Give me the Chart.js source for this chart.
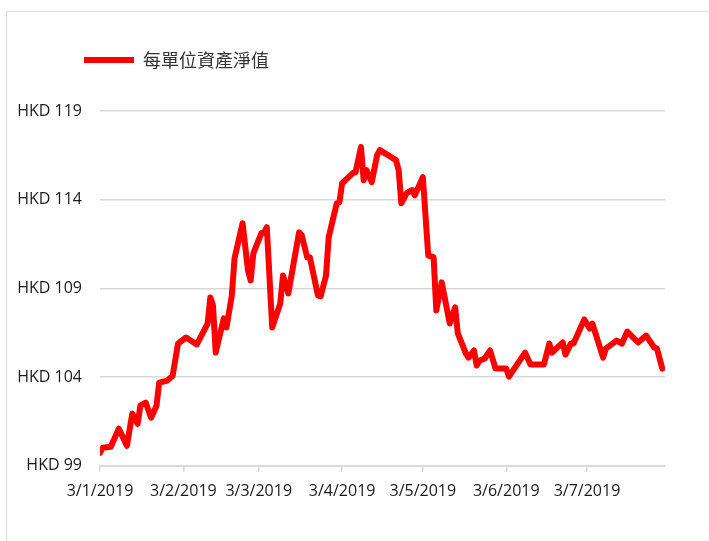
<!DOCTYPE html>
<html>
<head>
<meta charset="utf-8">
<script src="https://cdn.jsdelivr.net/npm/chart.js@4.4.1/dist/chart.umd.min.js"></script>
<style>
  body { margin: 0; background: #fff; }
  .frame { position: absolute; left: 6px; top: 11px; width: 780px; height: 600px; border: 1px solid #d9d9d9; }
  #navChart { position: absolute; left: 0; top: 0; }
</style>
</head>
<body>
<div class="frame"></div>
<canvas id="navChart" width="709" height="541"></canvas>
<script>
const seriesName = '每單位資產淨值';

// days counted from 3 Jan 2019
const dayOffsets = [
  0, 1, 4, 7, 10, 12, 14, 15, 17, 19, 21, 22, 25, 27, 29, 31, 32, 36, 40, 41,
  42, 43, 46, 47, 49, 50, 53, 55, 56, 57, 60, 61, 62, 64, 67, 68, 70, 74, 75, 77,
  78, 81, 82, 84, 85, 88, 89, 90, 94, 95, 97, 98, 99, 101, 103, 104, 110, 111, 112, 114,
  116, 117, 120, 122, 124, 125, 127, 130, 132, 133, 136, 137, 139, 140, 141, 143, 145, 147, 151, 152,
  158, 160, 165, 167, 168, 172, 173, 175, 176, 180, 182, 183, 187, 188, 192, 194, 196, 200, 203, 206,
  207, 209
];

const navValues = [
  99.73, 100.02, 100.07, 101.09, 100.13, 101.94, 101.37, 102.39, 102.56, 101.71, 102.39, 103.69, 103.80, 104.08, 105.89, 106.12, 106.23, 105.84, 107.02, 108.49,
  108.04, 105.38, 107.31, 106.80, 108.60, 110.69, 112.67, 110.02, 109.45, 110.98, 112.11, 112.15, 112.45, 106.80, 108.15, 109.73, 108.72, 112.16, 111.99, 110.75,
  110.75, 108.60, 108.55, 109.73, 111.88, 113.80, 113.86, 114.93, 115.50, 115.55, 116.97, 115.10, 115.67, 114.99, 116.51, 116.80, 116.23, 115.67, 113.80, 114.37,
  114.54, 114.25, 115.27, 110.86, 110.75, 107.76, 109.34, 107.02, 107.93, 106.46, 105.33, 105.10, 105.50, 104.65, 104.93, 105.05, 105.50, 104.48, 104.48, 104.03,
  105.38, 104.71, 104.71, 105.89, 105.38, 105.95, 105.27, 105.89, 105.89, 107.25, 106.74, 107.02, 105.10, 105.61, 106.06, 105.89, 106.57, 105.95, 106.34, 105.67,
  105.61, 104.48
];

const monthTickDays = [0, 31, 59, 90, 120, 151, 181];
const monthTickLabels = ['3/1/2019', '3/2/2019', '3/3/2019', '3/4/2019', '3/5/2019', '3/6/2019', '3/7/2019'];
const yTickValues = [99, 104, 109, 114, 119];

const tickFont = { family: '"Open Sans", "Liberation Sans", sans-serif', size: 16 };
const gridGray = '#d9d9d9';

// === legend: extra space under it, and start it at the plot's left edge ===
const legendPlacement = {
  id: 'legendPlacement',
  beforeInit(chart) {
    const fit = chart.legend.fit;
    chart.legend.fit = function () {
      fit.bind(chart.legend)();
      this.height += 32;
    };
  },
  afterLayout(chart) {
    chart.legend.left += 74;
  }
};

const ctx = document.getElementById('navChart').getContext('2d');
new Chart(ctx, {
  type: 'line',
  data: {
    datasets: [{
      label: seriesName,
      data: dayOffsets.map((d, i) => ({ x: d, y: navValues[i] })),
      borderColor: '#ff0000',
      backgroundColor: '#ff0000',
      borderWidth: 6,
      borderCapStyle: 'round',
      borderJoinStyle: 'round',
      pointRadius: 0,
      tension: 0
    }]
  },
  options: {
    responsive: false,
    animation: false,
    layout: { padding: { left: 0, right: 44, top: 41, bottom: 30 } },
    plugins: {
      legend: {
        align: 'start',
        labels: {
          usePointStyle: true,
          pointStyle: 'line',
          pointStyleWidth: 50,
          color: '#333',
          font: { family: '"Noto Sans CJK TC", sans-serif', size: 18 }
        }
      },
      tooltip: { enabled: false }
    },
    scales: {
      x: {
        type: 'linear',
        min: 0,
        max: 210,
        afterBuildTicks: s => { s.ticks = monthTickDays.map(v => ({ value: v })); },
        ticks: {
          autoSkip: false,
          maxRotation: 0,
          padding: 10,
          color: '#1a1a1a',
          font: tickFont,
          callback: (v, i) => monthTickLabels[i]
        },
        grid: { drawOnChartArea: false, drawTicks: true, tickLength: 6, color: gridGray, lineWidth: 1.5 },
        border: { color: gridGray, width: 2 }
      },
      y: {
        min: 99,
        max: 119,
        afterBuildTicks: s => { s.ticks = yTickValues.map(v => ({ value: v })); },
        afterFit: s => { s.width = 100; },
        ticks: {
          padding: 18,
          color: '#1a1a1a',
          font: tickFont,
          callback: v => 'HKD ' + v
        },
        grid: { drawTicks: false, color: gridGray, lineWidth: 1.5 },
        border: { display: false }
      }
    }
  },
  plugins: [legendPlacement]
});
</script>
</body>
</html>
